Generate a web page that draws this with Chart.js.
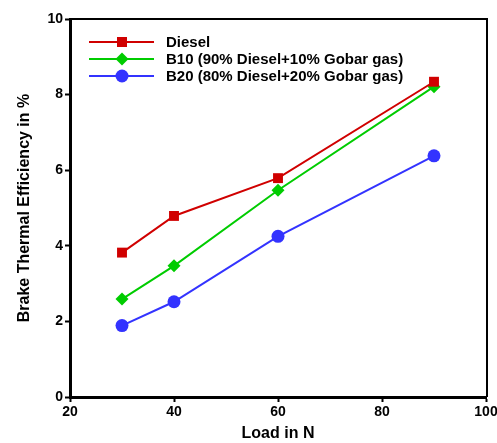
<!DOCTYPE html>
<html>
<head>
<meta charset="utf-8">
<script src="https://cdn.jsdelivr.net/npm/chart.js@4"></script>
<style>
  html, body { margin: 0; padding: 0; background: #fff; }
  #wrap { width: 497px; height: 443px; }
</style>
</head>
<body>
<div id="wrap"><canvas id="bteChart" width="497" height="443"></canvas></div>
<script>
const loads = [30, 40, 60, 90];
const xTicks = [20, 40, 60, 80, 100];
const yTicks = [0, 2, 4, 6, 8, 10];
const seriesNames = ['Diesel', 'B10 (90% Diesel+10% Gobar gas)', 'B20 (80% Diesel+20% Gobar gas)'];
const diesel = [3.82, 4.79, 5.79, 8.34];
const b10 = [2.59, 3.47, 5.47, 8.21];
const b20 = [1.89, 2.52, 4.25, 6.38];

const FONT = '"Liberation Sans", Arial, sans-serif';

const toPoints = vals => vals.map((v, i) => ({ x: loads[i], y: v }));

// legend drawn inside the plot, top-left, like the original
const insideLegend = {
  id: 'insideLegend',
  afterDatasetsDraw(chart) {
    const ctx = chart.ctx;
    const rows = [42, 59, 76];
    const x1 = 89, x2 = 154, xm = 122, tx = 166;
    ctx.save();
    chart.data.datasets.forEach((ds, i) => {
      const y = rows[i];
      ctx.strokeStyle = ds.borderColor;
      ctx.lineWidth = 2;
      ctx.beginPath();
      ctx.moveTo(x1, y);
      ctx.lineTo(x2, y);
      ctx.stroke();
      ctx.fillStyle = ds.backgroundColor;
      ctx.beginPath();
      if (ds.pointStyle === 'rect') {
        ctx.rect(xm - 5, y - 5, 10, 10);
      } else if (ds.pointStyle === 'rectRot') {
        ctx.moveTo(xm, y - 6.5); ctx.lineTo(xm + 6.5, y); ctx.lineTo(xm, y + 6.5); ctx.lineTo(xm - 6.5, y);
        ctx.closePath();
      } else {
        ctx.arc(xm, y, 6.5, 0, Math.PI * 2);
      }
      ctx.fill();
      ctx.fillStyle = '#000';
      ctx.font = 'bold 15px ' + FONT;
      ctx.textBaseline = 'middle';
      ctx.textAlign = 'left';
      ctx.fillText(ds.label, tx, y + 1);
    });
    ctx.restore();
  }
};

// thinner top and right frame lines
const frame = {
  id: 'frame',
  afterDraw(chart) {
    const a = chart.chartArea;
    const ctx = chart.ctx;
    ctx.save();
    ctx.strokeStyle = '#000';
    ctx.lineWidth = 2;
    ctx.beginPath();
    ctx.moveTo(a.left, a.top);
    ctx.lineTo(a.right + 1, a.top);
    ctx.lineTo(a.right + 1, a.bottom);
    ctx.stroke();
    ctx.restore();
  }
};

new Chart(document.getElementById('bteChart'), {
  type: 'line',
  data: {
    datasets: [
      { label: seriesNames[0], data: toPoints(diesel), borderColor: '#d00000', backgroundColor: '#d00000',
        pointStyle: 'rect', pointRadius: 7, pointBorderWidth: 0, borderWidth: 2 },
      { label: seriesNames[1], data: toPoints(b10), borderColor: '#00cc00', backgroundColor: '#00cc00',
        pointStyle: 'rectRot', pointRadius: 6.5, pointBorderWidth: 0, borderWidth: 2 },
      { label: seriesNames[2], data: toPoints(b20), borderColor: '#3333ff', backgroundColor: '#3333ff',
        pointStyle: 'circle', pointRadius: 6.5, pointBorderWidth: 0, borderWidth: 2 }
    ]
  },
  options: {
    responsive: false,
    animation: false,
    layout: { padding: { top: 19, right: 11, left: 0, bottom: 0 } },
    plugins: { legend: { display: false }, tooltip: { enabled: false } },
    scales: {
      x: {
        type: 'linear', min: 20, max: 100,
        afterBuildTicks: s => { s.ticks = xTicks.map(v => ({ value: v })); },
        afterFit: s => { s.height = 46; s.paddingRight = 0; s.paddingLeft = 0; },
        grid: { drawOnChartArea: false, drawTicks: true, tickLength: 5, tickWidth: 2, color: '#000' },
        border: { color: '#000', width: 3 },
        ticks: { color: '#000', padding: 2, maxRotation: 0, font: { family: FONT, size: 14, weight: 'bold' } },
        title: { display: true, text: 'Load in N', color: '#000', padding: { top: 2, bottom: 0 },
          font: { family: FONT, size: 16, weight: 'bold' } }
      },
      y: {
        min: 0, max: 10,
        afterBuildTicks: s => { s.ticks = yTicks.map(v => ({ value: v })); },
        afterFit: s => { s.width = 70; },
        grid: { drawOnChartArea: false, drawTicks: true, tickLength: 5, tickWidth: 2, color: '#000' },
        border: { color: '#000', width: 3 },
        ticks: { color: '#000', padding: 2, font: { family: FONT, size: 14, weight: 'bold' } },
        title: { display: true, text: 'Brake Thermal Efficiency in %', color: '#000', padding: { top: 15, bottom: 0 },
          font: { family: FONT, size: 16, weight: 'bold' } }
      }
    }
  },
  plugins: [insideLegend, frame]
});
</script>
</body>
</html>
